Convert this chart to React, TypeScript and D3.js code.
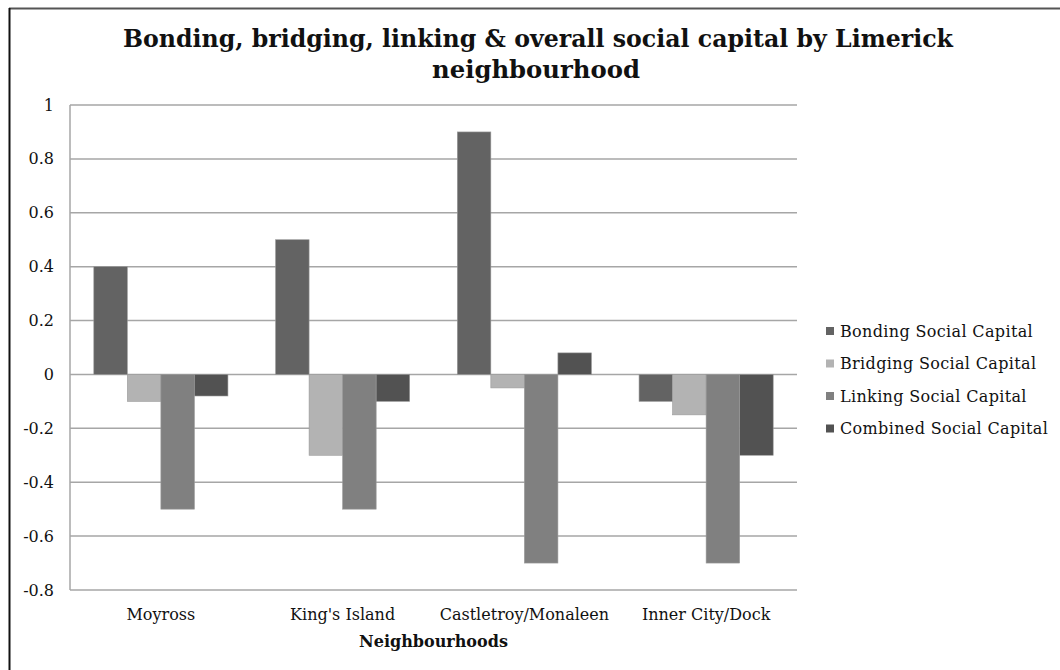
import React from "react";
import * as d3 from "d3";

const categories = ["Moyross", "King's Island", "Castletroy/Monaleen", "Inner City/Dock"];
const seriesNames = ["Bonding Social Capital", "Bridging Social Capital", "Linking Social Capital", "Combined Social Capital"];
const bonding = [0.4, 0.5, 0.9, -0.1];
const bridging = [-0.1, -0.3, -0.05, -0.15];
const linking = [-0.5, -0.5, -0.7, -0.7];
const combined = [-0.08, -0.1, 0.08, -0.3];
const seriesColors = ["#636363", "#b3b3b3", "#808080", "#525252"];
const yTicks = [1, 0.8, 0.6, 0.4, 0.2, 0, -0.2, -0.4, -0.6, -0.8];

const W = 1060;
const H = 670;
const plot = { left: 70, right: 797, top: 105, bottom: 590 };

export default function App() {
  const series = [bonding, bridging, linking, combined];
  const x = d3.scaleBand<string>().domain(categories).range([plot.left, plot.right]).padding(0);
  const xs = d3
    .scaleBand<string>()
    .domain(seriesNames)
    .range([0, x.bandwidth()])
    .paddingInner(0)
    .paddingOuter(0.71);
  const y = d3.scaleLinear().domain([-0.8, 1]).range([plot.bottom, plot.top]);
  const font = "'DejaVu Serif', serif";

  return (
    <svg
      width={W}
      height={H}
      style={{ position: "absolute", left: 0, top: 0, background: "#fff" }}
    >
      <rect x={0} y={0} width={W} height={H} fill="#fff" />
      {/* frame */}
      <line x1={9} x2={W} y1={8.5} y2={8.5} stroke="#555" strokeWidth={2} />
      <line x1={9.5} x2={9.5} y1={8} y2={H} stroke="#111" strokeWidth={2} />

      {/* title */}
      <text
        x={538}
        y={47}
        textAnchor="middle"
        fontFamily={font}
        fontWeight="bold"
        fontSize={24}
        textLength={830}
        lengthAdjust="spacingAndGlyphs"
        fill="#111"
      >
        Bonding, bridging, linking &amp; overall social capital by Limerick
      </text>
      <text
        x={536}
        y={78}
        textAnchor="middle"
        fontFamily={font}
        fontWeight="bold"
        fontSize={24}
        textLength={208}
        lengthAdjust="spacingAndGlyphs"
        fill="#111"
      >
        neighbourhood
      </text>

      {/* gridlines */}
      {yTicks.map((t) => (
        <g key={t}>
          <line
            x1={plot.left}
            x2={plot.right}
            y1={y(t)}
            y2={y(t)}
            stroke="#a6a6a6"
            strokeWidth={1.5}
          />
          <text
            x={54}
            y={y(t)}
            dy="0.35em"
            textAnchor="end"
            fontFamily={font}
            fontSize={16}
            fill="#111"
          >
            {String(t)}
          </text>
        </g>
      ))}
      <line
        x1={plot.left}
        x2={plot.left}
        y1={plot.top}
        y2={plot.bottom}
        stroke="#a6a6a6"
        strokeWidth={1.5}
      />

      {/* bars */}
      {categories.map((c, i) => (
        <g key={c} transform={`translate(${x(c)},0)`}>
          {series.map((s, j) => {
            const v = s[i];
            const y0 = y(Math.max(0, v));
            const y1 = y(Math.min(0, v));
            return (
              <rect
                key={j}
                x={xs(seriesNames[j])}
                y={y0}
                width={xs.bandwidth()}
                height={y1 - y0}
                fill={seriesColors[j]}
                stroke="#9a9a9a"
                strokeWidth={0.6}
              />
            );
          })}
        </g>
      ))}

      {/* x labels */}
      {categories.map((c) => (
        <text
          key={c}
          x={(x(c) as number) + x.bandwidth() / 2}
          y={620}
          textAnchor="middle"
          fontFamily={font}
          fontSize={16}
          fill="#111"
        >
          {c}
        </text>
      ))}
      <text
        x={(plot.left + plot.right) / 2}
        y={647}
        textAnchor="middle"
        fontFamily={font}
        fontWeight="bold"
        fontSize={16}
        fill="#111"
      >
        Neighbourhoods
      </text>

      {/* legend */}
      {seriesNames.map((n, j) => (
        <g key={n} transform={`translate(826,${331 + j * 32.5})`}>
          <rect x={0} y={-4} width={8} height={8} fill={seriesColors[j]} />
          <text
            x={14}
            y={0}
            dy="0.35em"
            fontFamily={font}
            fontSize={16}
            letterSpacing={0.35}
            fill="#111"
          >
            {n}
          </text>
        </g>
      ))}
    </svg>
  );
}
